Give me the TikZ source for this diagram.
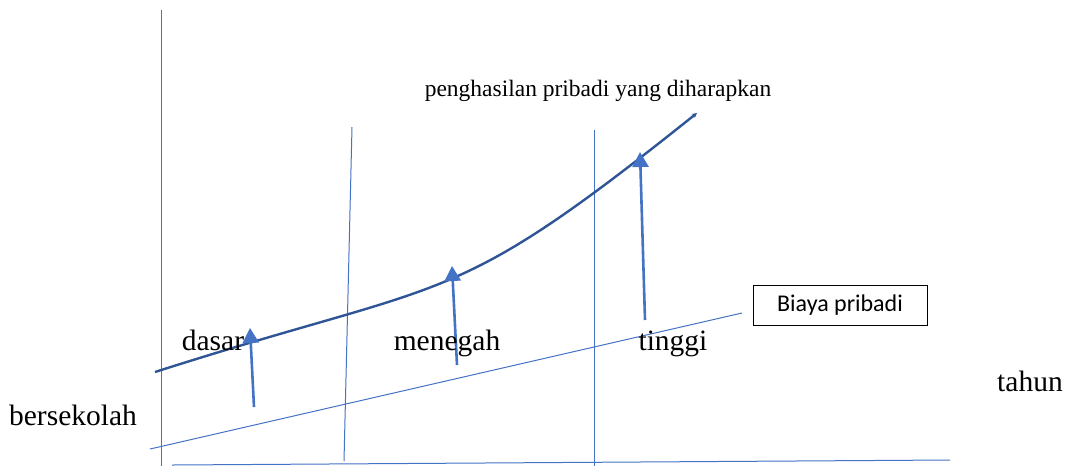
\documentclass[tikz,border=0pt]{standalone}
\usepackage{fontspec}
\setmainfont{Liberation Serif}
\newfontfamily\calibri{Carlito}
\usetikzlibrary{arrows.meta}
\definecolor{lblue}{HTML}{4472C4}
\definecolor{dblue}{HTML}{2F5597}
\begin{document}
\begin{tikzpicture}[x=1pt,y=-1pt,
  thinline/.style={draw=lblue,line width=1pt},
  curveline/.style={draw=dblue,line width=2.4pt},
  uparrow/.style={draw=lblue,line width=2.6pt,-{Triangle[length=15pt,width=16pt]}},
  lbl/.style={font=\fontsize{29.5}{34}\selectfont,inner sep=0pt}]
\useasboundingbox (0,0) rectangle (1070,467);
% axes and grid lines
\draw[thinline] (161,10) -- (161,466);
\draw[thinline] (172,465) -- (950,460);
\draw[thinline] (352,127) -- (344,461);
\draw[thinline] (594,130) -- (594,466);
\draw[thinline] (150,449) -- (742,313);
% curve
\coordinate (c0) at (155,372);
\coordinate (c1) at (697,113);
\draw[curveline,-{Stealth[length=5pt,width=5pt]}] (c0) .. controls (455,276) and (447,313) .. (c1);
% arrows
\coordinate (a1) at (254,407); \coordinate (b1) at (250,328);
\coordinate (a2) at (457,365); \coordinate (b2) at (452,266);
\coordinate (a3) at (645,320); \coordinate (b3) at (640,152);
\draw[uparrow] (a1) -- (b1);
\draw[uparrow] (a2) -- (b2);
\draw[uparrow] (a3) -- (b3);
% labels
\node[lbl,anchor=base] (dasar) at (213,350) {dasar};
\node[lbl,anchor=base] (menegah) at (447,350) {menegah};
\node[lbl,anchor=base] (tinggi) at (673,350) {tinggi};
\node[lbl,anchor=base] (tahun) at (1030,391) {tahun};
\node[lbl,anchor=base] (bersekolah) at (73,425) {bersekolah};
\node[font=\fontsize{23.5}{27}\selectfont,inner sep=0pt,anchor=base] (title) at (598,96) {penghasilan pribadi yang diharapkan};
\node[draw=black,line width=0.8pt,font=\calibri\fontsize{24}{28}\selectfont,minimum width=174pt,minimum height=40pt,inner sep=0pt] (biaya) at (840,305) {Biaya pribadi};
\end{tikzpicture}
\end{document}
